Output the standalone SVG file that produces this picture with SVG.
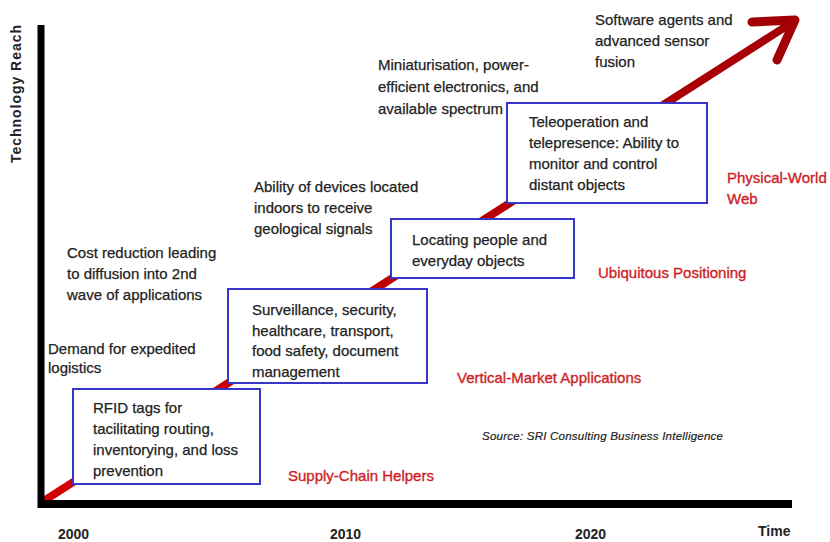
<svg xmlns="http://www.w3.org/2000/svg" width="830" height="542" viewBox="0 0 830 542">
  <style>
    .t { font-family: "Liberation Sans", Arial, sans-serif; font-size: 15px; fill: #222; stroke: #222; stroke-width: 0.25; }
    .r { font-family: "Liberation Sans", Arial, sans-serif; font-size: 15px; fill: #cc1f26; stroke: #cc1f26; stroke-width: 0.35; }
    .y { font-family: "Liberation Sans", Arial, sans-serif; font-size: 14px; font-weight: bold; fill: #222; }
    .src { font-family: "Liberation Sans", Arial, sans-serif; font-size: 11.5px; font-style: italic; fill: #222; stroke: #222; stroke-width: 0.2; }
    .box { fill: #fff; stroke: #3636c8; stroke-width: 2; }
    .axis { stroke: #000; fill: none; }
  </style>
  <defs>
    <linearGradient id="redGrad" gradientUnits="userSpaceOnUse" x1="42" y1="502" x2="795" y2="20">
      <stop offset="0" stop-color="#d40000"/>
      <stop offset="1" stop-color="#a30006"/>
    </linearGradient>
  </defs>
  <rect x="0" y="0" width="830" height="542" fill="#fff"/>

  <g id="connectors">
    <line x1="42" y1="502" x2="793" y2="22" stroke="url(#redGrad)" stroke-width="8" stroke-linecap="round"/>
    <polyline points="752,22 795,20 777,60" fill="none" stroke="#a30006" stroke-width="9" stroke-linecap="round" stroke-linejoin="round"/>
  </g>

  <g id="axes">
    <line class="axis" x1="41" y1="25" x2="41" y2="508" stroke-width="7"/>
    <line class="axis" x1="38" y1="504" x2="792" y2="504" stroke-width="8"/>
    <text class="y" transform="translate(21,163) rotate(-90)" textLength="138">Technology Reach</text>
    <text class="y" x="58" y="539">2000</text>
    <text class="y" x="330" y="539">2010</text>
    <text class="y" x="575" y="539">2020</text>
    <text class="y" x="758" y="536">Time</text>
  </g>

  <g id="node-rfid">
    <rect class="box" x="73" y="389" width="187" height="95"/>
    <text class="t" x="93" y="413">RFID tags for</text>
    <text class="t" x="93" y="434">tacilitating routing,</text>
    <text class="t" x="93" y="455">inventorying, and loss</text>
    <text class="t" x="93" y="476">prevention</text>
  </g>

  <g id="node-surveillance">
    <rect class="box" x="228" y="289" width="199" height="94"/>
    <text class="t" x="252" y="315">Surveillance, security,</text>
    <text class="t" x="252" y="336">healthcare, transport,</text>
    <text class="t" x="252" y="356">food safety, document</text>
    <text class="t" x="252" y="377">management</text>
  </g>

  <g id="node-locating">
    <rect class="box" x="391" y="219" width="183" height="59"/>
    <text class="t" x="412" y="245">Locating people and</text>
    <text class="t" x="412" y="266">everyday objects</text>
  </g>

  <g id="node-teleoperation">
    <rect class="box" x="507" y="103" width="200" height="100"/>
    <text class="t" x="529" y="127">Teleoperation and</text>
    <text class="t" x="529" y="148">telepresence: Ability to</text>
    <text class="t" x="529" y="169">monitor and control</text>
    <text class="t" x="529" y="190">distant objects</text>
  </g>

  <g id="driver-demand">
    <text class="t" x="48" y="354">Demand for expedited</text>
    <text class="t" x="48" y="373">logistics</text>
  </g>
  <g id="driver-cost">
    <text class="t" x="67" y="258">Cost reduction leading</text>
    <text class="t" x="67" y="279">to diffusion into 2nd</text>
    <text class="t" x="67" y="300">wave of applications</text>
  </g>
  <g id="driver-ability">
    <text class="t" x="254" y="192">Ability of devices located</text>
    <text class="t" x="254" y="213">indoors to receive</text>
    <text class="t" x="254" y="234">geological signals</text>
  </g>
  <g id="driver-miniaturisation">
    <text class="t" x="378" y="70">Miniaturisation, power-</text>
    <text class="t" x="378" y="92">efficient electronics, and</text>
    <text class="t" x="378" y="114">available spectrum</text>
  </g>
  <g id="driver-software">
    <text class="t" x="595" y="25">Software agents and</text>
    <text class="t" x="595" y="46">advanced sensor</text>
    <text class="t" x="595" y="67">fusion</text>
  </g>

  <g id="phase-supply">
    <text class="r" x="288" y="481">Supply-Chain Helpers</text>
  </g>
  <g id="phase-vertical">
    <text class="r" x="457" y="383">Vertical-Market Applications</text>
  </g>
  <g id="phase-ubiquitous">
    <text class="r" x="598" y="278">Ubiquitous Positioning</text>
  </g>
  <g id="phase-physical">
    <text class="r" x="727" y="183">Physical-World</text>
    <text class="r" x="727" y="204">Web</text>
  </g>

  <g id="source">
    <text class="src" x="482" y="440" textLength="241">Source: SRI Consulting Business Intelligence</text>
  </g>
</svg>
